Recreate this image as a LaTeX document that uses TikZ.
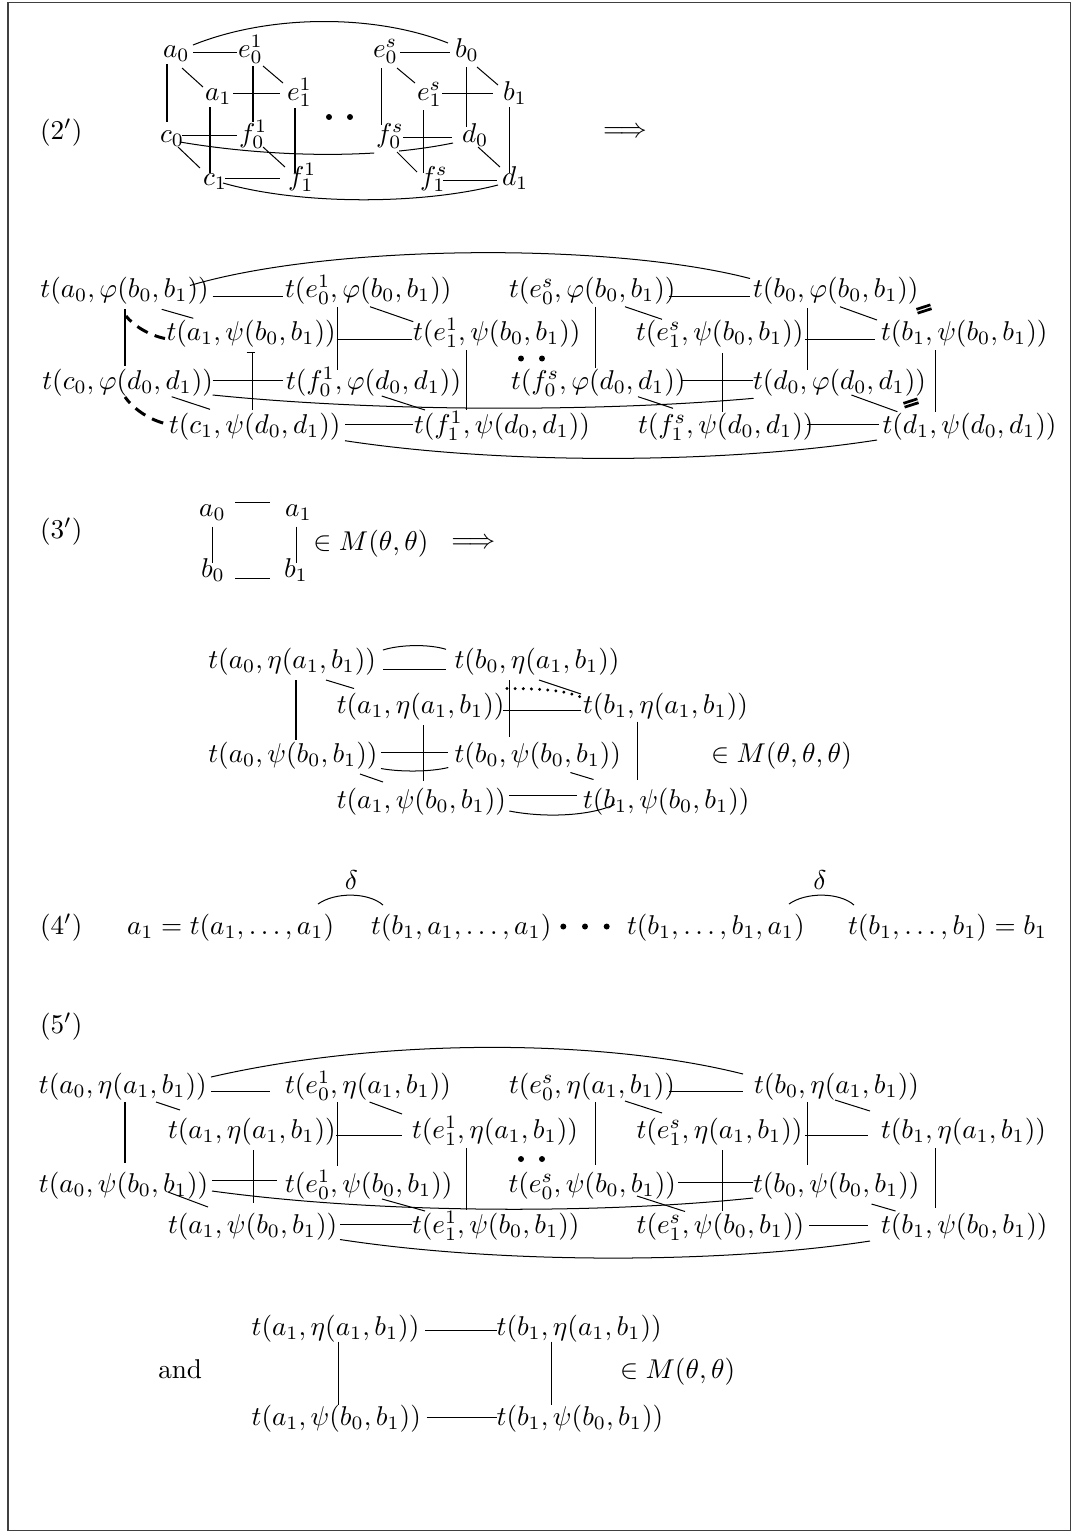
\documentclass[tikz,border=0pt]{standalone}
\usepackage{amsmath}
\begin{document}
\begin{tikzpicture}[x=0.368pt,y=-0.368pt,line width=0.37pt,
  m/.style={anchor=west,inner sep=0pt,outer sep=0pt,text height=7.5pt,text depth=2.5pt},
  lb/.style={anchor=base west,inner sep=0pt,outer sep=0pt},
  cb/.style={anchor=base,inner sep=0pt,outer sep=0pt},
  dsh/.style={line width=1.1pt,dash pattern=on 4.4pt off 2.8pt,dash phase=1.5pt},
  dotl/.style={line width=1.2pt,dash pattern=on 0pt off 3pt,line cap=round},
  eqm/.style={line width=1.0pt}]
\useasboundingbox (0,0) rectangle (1077,1537);
\draw[black!75] (8,2) rectangle (1070,1530);

% ===================== (2') cube =====================
\node[m] (lab2) at (40,133) {$(2')$};
\node[lb] (ca0) at (163,57) {$a_0$};
\node[lb] (ce01) at (238,57) {$e_0^1$};
\node[lb] (ce0s) at (373,57) {$e_0^s$};
\node[lb] (cb0) at (455,57) {$b_0$};
\node[lb] (ca1) at (205,100) {$a_1$};
\node[lb] (ce11) at (287,100) {$e_1^1$};
\node[lb] (ce1s) at (417,100) {$e_1^s$};
\node[lb] (cb1) at (503,100) {$b_1$};
\node[lb] (cc0) at (160,142) {$c_0$};
\node[lb] (cf01) at (239,142) {$f_0^1$};
\node[lb] (cf0s) at (376,142) {$f_0^s$};
\node[lb] (cd0) at (462,142) {$d_0$};
\node[lb] (cc1) at (203,185) {$c_1$};
\node[lb] (cf11) at (288,185) {$f_1^1$};
\node[lb] (cf1s) at (420,185) {$f_1^s$};
\node[lb] (cd1) at (502,185) {$d_1$};
\node[inner sep=0pt] (impl2) at (625,133) {$\Longrightarrow$};

\draw (193,52)--(237,52);
\draw (400,52)--(450,52);
\draw (193,45) .. controls (270,14) and (375,14) .. (448,43);
\draw (182,68)--(203,87);
\draw (167,64)--(167,122);
\draw (253,66)--(253,122);
\draw (263,66)--(283,83);
\draw (233,93)--(280,93);
\draw (210,107)--(210,173);
\draw (295,108)--(295,173);
\draw (381,68)--(381,125);
\draw (397,68)--(415,83);
\draw (442,93)--(493,93);
\draw (466,67)--(466,127);
\draw (477,67)--(498,85);
\draw (423,110)--(423,173);
\draw (509,107)--(509,173);
\draw (182,135)--(237,135);
\begin{scope}\clip (150,100) rectangle (374,170);
\draw (180,142) .. controls (250,154) and (360,162) .. (453,143);\end{scope}
\begin{scope}\clip (399,100) rectangle (470,170);
\draw (180,142) .. controls (250,154) and (360,162) .. (453,143);\end{scope}
\draw (178,147)--(200,168);
\draw (263,147)--(285,167);
\draw (225,178)--(280,178);
\draw (223,183) .. controls (300,205) and (420,205) .. (498,185);
\draw (403,137)--(452,137);
\draw (397,152)--(417,172);
\draw (443,180)--(497,180);
\draw (478,147)--(500,167);
\fill (329,117) circle[radius=1.1pt];
\fill (350,117) circle[radius=1.1pt];

% ===================== (2') big diagram =====================
\node[m] (dA0) at (40.5,290.5) {$t(a_0,\varphi(b_0,b_1))$};
\node[m] (dE01) at (285,290.5) {$t(e_0^1,\varphi(b_0,b_1))$};
\node[m] (dE0s) at (509,290.5) {$t(e_0^s,\varphi(b_0,b_1))$};
\node[m] (dB0) at (753,290.5) {$t(b_0,\varphi(b_0,b_1))$};
\node[m] (dA1) at (166.5,334) {$t(a_1,\psi(b_0,b_1))$};
\node[m] (dE11) at (413,334) {$t(e_1^1,\psi(b_0,b_1))$};
\node[m] (dE1s) at (636,334) {$t(e_1^s,\psi(b_0,b_1))$};
\node[m] (dB1) at (881,334) {$t(b_1,\psi(b_0,b_1))$};
\node[m] (dC0) at (42.4,382.5) {$t(c_0,\varphi(d_0,d_1))$};
\node[m] (dF01) at (286,382.5) {$t(f_0^1,\varphi(d_0,d_1))$};
\node[m] (dF0s) at (511,382.5) {$t(f_0^s,\varphi(d_0,d_1))$};
\node[m] (dD0) at (753,382.5) {$t(d_0,\varphi(d_0,d_1))$};
\node[m] (dC1) at (169,426.5) {$t(c_1,\psi(d_0,d_1))$};
\node[m] (dF11) at (414,426.5) {$t(f_1^1,\psi(d_0,d_1))$};
\node[m] (dF1s) at (638,426.5) {$t(f_1^s,\psi(d_0,d_1))$};
\node[m] (dD1) at (882.6,426.5) {$t(d_1,\psi(d_0,d_1))$};

\draw (212.7,296)--(283.3,296);
\draw (669,296)--(750,296);
\draw (190,285.5) .. controls (330,244) and (610,242) .. (750,278.5);
\draw (161.7,309.3)--(193.3,318.3);
\draw (370,306.7)--(413.3,321.7);
\draw (625,306.7)--(662,319.3);
\draw (840,306.7)--(877,320);
\draw (125,309.3)--(125,366);
\draw (337.7,307.3)--(337.7,370);
\draw (595,306.7)--(595,368.3);
\draw (807,308.3)--(807,370);
\draw (336.7,339.3)--(411.7,339.3);
\draw (805.4,339.3)--(875.3,339.3);
\draw (252.7,352.7)--(252.7,410);
\draw (246.7,352.7)--(255,352.7);
\draw (466.7,350)--(466.7,410);
\draw (722,353.3)--(722,411.7);
\draw (935,350)--(935,411.7);
\fill (521,358.5) circle[radius=1.1pt];
\fill (542,358.5) circle[radius=1.1pt];
\draw[dsh] (126,316) .. controls (133,325) and (148,335) .. (165,338.5);
\draw[dsh] (125,397) .. controls (132,407) and (147,419) .. (165,423.5);
\draw (212.7,380.7)--(283.3,380.7);
\draw (212.7,395) .. controls (380,412) and (600,412) .. (753.5,398.3);
\draw (682,380)--(753,380);
\draw (171.7,396.7)--(210,409.3);
\draw (381.7,396)--(425,410);
\draw (638,396.7)--(673,408.3);
\draw (851.4,395)--(897.4,411.7);
\draw (345,424)--(413.3,424);
\draw (807,424)--(879,424);
\draw (345,440.7) .. controls (500,464.4) and (720,464.4) .. (877,440);
\draw[eqm] (916.4,309.35)--(930.4,304.85);
\draw[eqm] (917.6,313.15)--(931.6,308.65);
\draw[eqm] (903.4,403.35)--(917.4,398.85);
\draw[eqm] (904.6,407.15)--(918.6,402.65);

% ===================== (3') =====================
\node[m] (lab3) at (40,532) {$(3')$};
\node[cb] (sa0) at (212.5,516.7) {$a_0$};
\node[cb] (sa1) at (298.5,516.7) {$a_1$};
\node[cb] (sb0) at (213,577.3) {$b_0$};
\node[cb] (sb1) at (296,577.3) {$b_1$};
\draw (235,502.7)--(270,502.7);
\draw (235,578.3)--(270,578.3);
\draw (212.3,526.7)--(212.3,563.3);
\draw (296.7,526.7)--(296.7,563.3);
\node[m] (sin) at (313.3,544) {$\in M(\theta,\theta)$};
\node[inner sep=0pt] (impl3) at (473.3,544) {$\Longrightarrow$};

\node[m] (tA0) at (208.4,662) {$t(a_0,\eta(a_1,b_1))$};
\node[m] (tB0) at (454.6,662) {$t(b_0,\eta(a_1,b_1))$};
\node[m] (tA1) at (336.8,707) {$t(a_1,\eta(a_1,b_1))$};
\node[m] (tB1) at (583,707) {$t(b_1,\eta(a_1,b_1))$};
\node[m] (tA0p) at (208.4,756) {$t(a_0,\psi(b_0,b_1))$};
\node[m] (tB0p) at (454.6,756) {$t(b_0,\psi(b_0,b_1))$};
\node[m] (tA1p) at (336.8,802) {$t(a_1,\psi(b_0,b_1))$};
\node[m] (tB1p) at (583,802) {$t(b_1,\psi(b_0,b_1))$};
\node[m] (tin) at (711,756) {$\in M(\theta,\theta,\theta)$};

\draw (383,669)--(446,669);
\draw (383,650) .. controls (400,644.5) and (429,644) .. (446,649.3);
\draw (326,680)--(354,688.5);
\draw (296,680)--(296,740);
\draw (539,680)--(581,694);
\draw (509.3,680)--(509.3,737);
\draw[dotl] (507,688.5) .. controls (540,688.5) and (565,690) .. (583,698);
\draw (503,710)--(581,710);
\draw (423,725)--(423,781);
\draw (637.7,721.5)--(637.7,780);
\draw (381,752)--(448.3,752);
\draw (381,768.5) .. controls (400,772) and (430,772) .. (448.3,767.5);
\draw (360,774)--(383,782);
\draw (570.4,772.5)--(593.5,779.5);
\draw (509.3,795)--(576.7,795);
\draw (509.3,811) .. controls (545,818) and (590,816) .. (614.6,804.5);

% ===================== (4') =====================
\node[m] (lab4) at (40,928) {$(4')$};
\node[m] (fL1) at (127,928) {$a_1=t(a_1,\ldots,a_1)$};
\node[m] (fL2) at (371,928) {$t(b_1,a_1,\ldots,a_1)$};
\node[m] (fL3) at (627,928) {$t(b_1,\ldots,b_1,a_1)$};
\node[m] (fL4) at (848,928) {$t(b_1,\ldots,b_1)=b_1$};
\fill (563.3,926.5) circle[radius=1.1pt];
\fill (585,926.5) circle[radius=1.1pt];
\fill (606.7,926.5) circle[radius=1.1pt];
\node[inner sep=0pt] (del1) at (351.5,880) {$\delta$};
\node[inner sep=0pt] (del2) at (820,880) {$\delta$};
\draw (318,904) .. controls (335,892) and (368,892) .. (383,905);
\draw (789,904) .. controls (806,892) and (839,892) .. (854,905);

% ===================== (5') =====================
\node[m] (lab5) at (40,1027) {$(5')$};
\node[m] (pA0) at (39,1087) {$t(a_0,\eta(a_1,b_1))$};
\node[m] (pE01) at (285,1087) {$t(e_0^1,\eta(a_1,b_1))$};
\node[m] (pE0s) at (509,1087) {$t(e_0^s,\eta(a_1,b_1))$};
\node[m] (pB0) at (754,1087) {$t(b_0,\eta(a_1,b_1))$};
\node[m] (pA1) at (168,1132) {$t(a_1,\eta(a_1,b_1))$};
\node[m] (pE11) at (412,1132) {$t(e_1^1,\eta(a_1,b_1))$};
\node[m] (pE1s) at (636.5,1132) {$t(e_1^s,\eta(a_1,b_1))$};
\node[m] (pB1) at (881,1132) {$t(b_1,\eta(a_1,b_1))$};
\node[m] (pA0p) at (39,1186) {$t(a_0,\psi(b_0,b_1))$};
\node[m] (pE01p) at (285,1186) {$t(e_0^1,\psi(b_0,b_1))$};
\node[m] (pE0sp) at (508.5,1186) {$t(e_0^s,\psi(b_0,b_1))$};
\node[m] (pB0p) at (753,1186) {$t(b_0,\psi(b_0,b_1))$};
\node[m] (pA1p) at (168,1227) {$t(a_1,\psi(b_0,b_1))$};
\node[m] (pE11p) at (412,1227) {$t(e_1^1,\psi(b_0,b_1))$};
\node[m] (pE1sp) at (636.7,1227) {$t(e_1^s,\psi(b_0,b_1))$};
\node[m] (pB1p) at (881,1227) {$t(b_1,\psi(b_0,b_1))$};

\draw (211,1077) .. controls (380,1038) and (600,1038) .. (743,1074);
\draw (211,1091)--(270,1091);
\draw (669,1091)--(743,1091);
\draw (156,1102)--(180,1110);
\draw (369.5,1102)--(402,1114);
\draw (625,1101)--(662,1113);
\draw (835,1100)--(870,1111);
\draw (125,1102)--(125,1163);
\draw (337.5,1102)--(337.5,1166);
\draw (595,1102)--(595,1165);
\draw (807,1102)--(807,1165);
\draw (336,1135.5)--(402,1135.5);
\draw (805,1135.5)--(868,1135.5);
\draw (253.5,1150)--(253.5,1203);
\draw (466,1148)--(466,1210);
\draw (722,1150)--(722,1211);
\draw (935,1148)--(935,1208);
\fill (521,1159) circle[radius=1.1pt];
\fill (542,1159) circle[radius=1.1pt];
\draw (212,1180)--(276.5,1180);
\draw (678,1182)--(753,1182);
\draw (212,1191) .. controls (380,1214) and (600,1214) .. (753,1198);
\draw (168,1192)--(208,1207);
\draw (382,1199)--(425,1211);
\draw (637,1196)--(685,1211.5);
\draw (871.5,1204)--(895.5,1211);
\draw (340,1224)--(411.7,1224);
\draw (809,1225)--(868,1225);
\draw (340,1239.5) .. controls (500,1264) and (720,1264) .. (870,1241);

% ===================== final =====================
\node[lb] (and) at (158.3,1378.3) {and};
\node[m] (qA) at (251.7,1328.3) {$t(a_1,\eta(a_1,b_1))$};
\node[m] (qB) at (496.7,1328.3) {$t(b_1,\eta(a_1,b_1))$};
\node[m] (qC) at (251.7,1418.3) {$t(a_1,\psi(b_0,b_1))$};
\node[m] (qD) at (496.7,1418.3) {$t(b_1,\psi(b_0,b_1))$};
\node[m] (qin) at (620,1371.5) {$\in M(\theta,\theta)$};
\draw (425,1330.7)--(496.7,1330.7);
\draw (426.7,1417.3)--(496.7,1417.3);
\draw (338.3,1341.7)--(338.3,1405);
\draw (551.7,1341.7)--(551.7,1405);
\end{tikzpicture}
\end{document}
